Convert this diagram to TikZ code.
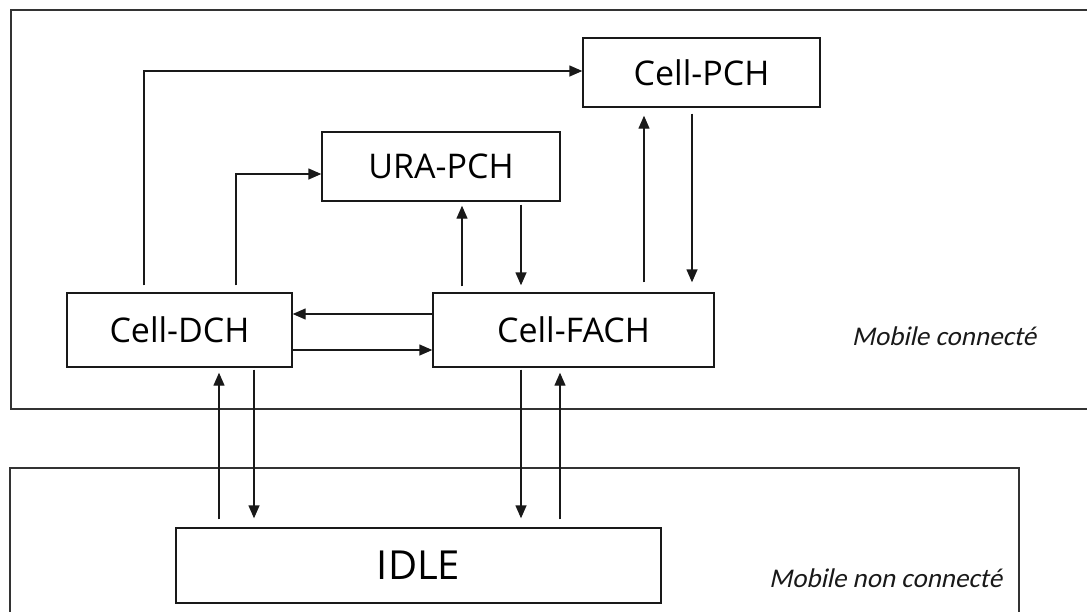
\documentclass[tikz,border=0pt]{standalone}
\usepackage{fontspec}
\setmainfont{Open Sans}
\newfontfamily\labelfont{Carlito}[AutoFakeSlant=0.22]
\usetikzlibrary{arrows.meta}
\tikzset{
  statebox/.style={draw=black!90, line width=1.4pt, fill=white, inner sep=0pt,
    font=\fontsize{34}{40}\selectfont},
  arr/.style={draw=black!90, line width=1.4pt, -{Triangle[length=13pt,width=11pt]}},
  frame/.style={draw=black!80, line width=1.5pt},
  zone/.style={font=\labelfont\itshape\fontsize{27}{30}\selectfont, text=black!90, inner sep=0pt},
}
\begin{document}
\begin{tikzpicture}[x=1pt,y=-1pt]
\useasboundingbox (0,0) rectangle (1087,611);
% frames
\draw[frame] (1090,10) -- (11,10) -- (11,409) -- (1090,409);
\draw[frame] (10,615) -- (10,468) -- (1019,468) -- (1019,615);
% states
\node[statebox, minimum width=237pt, minimum height=69pt] (pch) at (701.5,72.5) {Cell-PCH};
\node[statebox, minimum width=238pt, minimum height=69pt] (ura) at (441,166.5) {URA-PCH};
\node[statebox, minimum width=225pt, minimum height=74pt] (dch) at (179.5,330) {Cell-DCH};
\node[statebox, minimum width=281pt, minimum height=74pt] (fach) at (573.5,330) {Cell-FACH};
\node[statebox, minimum width=485pt, minimum height=75pt, font=\fontsize{40}{46}\selectfont] (idle) at (418.5,565.5) {IDLE};
% labels
\node[zone] (lc) at (944,336) {Mobile connecté};
\node[zone] (lnc) at (885.5,578) {Mobile non connecté};
% connectors
\draw[arr, shorten <=7pt] (dch.north -| 144,0) |- ([yshift=1.5pt]pch.west);
\draw[arr, shorten <=7pt] (dch.north -| 236,0) |- ([yshift=-7.5pt]ura.west);
\draw[arr] (fach.west |- 0,314) -- (dch.east |- 0,314);
\draw[arr] (dch.east |- 0,350) -- (fach.west |- 0,350);
\draw[arr, shorten <=6pt, shorten >=4pt] (fach.north -| 462,0) -- (ura.south -| 462,0);
\draw[arr, shorten <=3pt, shorten >=7pt] (ura.south -| 521,0) -- (fach.north -| 521,0);
\draw[arr, shorten <=10pt, shorten >=8pt] (fach.north -| 644,0) -- (pch.south -| 644,0);
\draw[arr, shorten <=6pt, shorten >=10pt] (pch.south -| 692,0) -- (fach.north -| 692,0);
\draw[arr, shorten <=8pt, shorten >=5pt] (idle.north -| 219,0) -- (dch.south -| 219,0);
\draw[arr, shorten <=2pt, shorten >=9pt] (dch.south -| 254,0) -- (idle.north -| 254,0);
\draw[arr, shorten <=2pt, shorten >=9pt] (fach.south -| 521,0) -- (idle.north -| 521,0);
\draw[arr, shorten <=8pt, shorten >=5pt] (idle.north -| 560,0) -- (fach.south -| 560,0);
\end{tikzpicture}
\end{document}
